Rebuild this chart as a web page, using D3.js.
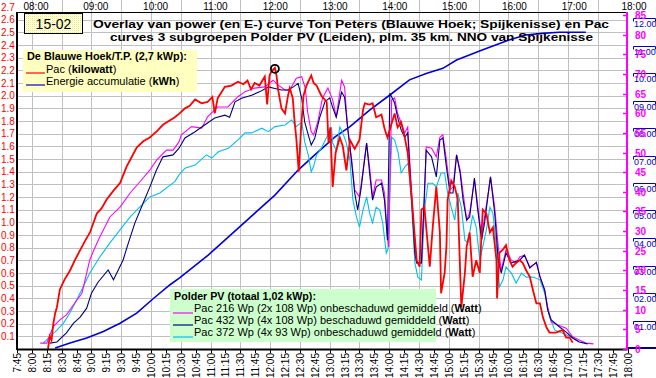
<!DOCTYPE html>
<html><head><meta charset="utf-8">
<script src="https://cdn.jsdelivr.net/npm/d3@7"></script>
<style>
body{margin:0;background:#fff}
svg{display:block}
text{font-family:Arial,"Liberation Sans",sans-serif}
</style>
</head><body>
<svg id="c" width="656" height="378"></svg>
<script>
// ---------- DATA (time in decimal hours) ----------
const redTicks = d3.range(1, 28).map(i => +(i / 10).toFixed(1));      // 0.1 .. 2.7 kW
const magentaTicks = d3.range(0, 90, 5);                               // 0 .. 85 W
const energyTicks = d3.range(1, 13);                                   // 01.00 .. 12.00 kWh
const topHours = d3.range(8, 19);                                      // 08:00 .. 18:00
const bottomQuarters = d3.range(7.75, 18.01, 0.25);                    // 7:45 .. 18:00

// Ton Peters Pac (kW)
const pacRed = [[8.27,0.0],[8.30,0.10],[8.33,0.07],[8.36,0.20],[8.39,0.28],[8.42,0.33],[8.47,0.47],[8.55,0.55],[8.64,0.62],[8.72,0.70],[8.81,0.78],[8.90,0.86],[8.975,0.92],[9.09,1.07],[9.17,1.11],[9.255,1.18],[9.37,1.25],[9.48,1.31],[9.59,1.44],[9.68,1.52],[9.76,1.59],[9.87,1.64],[9.98,1.67],[10.10,1.72],[10.20,1.77],[10.30,1.80],[10.40,1.83],[10.48,1.86],[10.57,1.90],[10.65,1.92],[10.74,1.97],[10.85,1.94],[10.95,1.95],[11.03,1.99],[11.07,1.86],[11.12,1.98],[11.24,2.07],[11.35,2.08],[11.46,2.11],[11.55,2.09],[11.62,2.12],[11.68,2.05],[11.74,2.10],[11.82,2.08],[11.91,2.15],[11.95,1.93],[11.99,2.16],[12.02,2.19],[12.08,2.22],[12.11,2.15],[12.13,2.06],[12.19,1.90],[12.25,1.86],[12.30,2.00],[12.33,2.06],[12.38,1.98],[12.41,1.80],[12.44,1.66],[12.48,1.40],[12.52,1.75],[12.56,2.00],[12.61,2.08],[12.69,2.16],[12.73,2.10],[12.78,2.08],[12.86,2.00],[12.95,1.95],[12.98,1.63],[13.01,1.75],[13.05,1.28],[13.10,1.55],[13.17,1.67],[13.22,1.60],[13.28,1.41],[13.34,1.65],[13.42,1.58],[13.50,1.65],[13.56,1.89],[13.59,1.94],[13.67,1.93],[13.72,1.94],[13.78,1.83],[13.87,1.85],[13.92,1.74],[13.97,1.67],[14.04,1.78],[14.09,1.86],[14.14,1.75],[14.20,1.79],[14.26,1.67],[14.31,1.55],[14.37,1.23],[14.43,0.88],[14.46,0.70],[14.51,0.65],[14.54,1.10],[14.59,1.12],[14.64,0.86],[14.68,0.65],[14.73,0.96],[14.79,1.28],[14.85,0.92],[14.87,0.44],[14.93,0.60],[14.96,0.81],[14.98,1.18],[15.04,1.33],[15.10,1.28],[15.15,1.18],[15.21,0.33],[15.27,0.60],[15.30,0.81],[15.35,0.92],[15.40,0.57],[15.46,0.70],[15.52,0.60],[15.55,0.92],[15.57,1.10],[15.63,1.07],[15.69,0.92],[15.74,0.96],[15.80,0.70],[15.81,0.40],[15.85,0.76],[15.90,0.78],[15.96,0.82],[16.02,0.70],[16.07,0.65],[16.13,0.68],[16.19,0.70],[16.24,0.68],[16.30,0.62],[16.36,0.57],[16.41,0.47],[16.47,0.36],[16.53,0.36],[16.58,0.25],[16.64,0.17],[16.69,0.13],[16.80,0.13],[16.91,0.15],[16.97,0.09],[17.03,0.09],[17.08,0.05]];

// Ton Peters energy accumulation (kWh)
const energyBlue = [[8.39,0.0],[8.64,0.18],[8.92,0.36],[9.20,0.60],[9.48,0.90],[9.76,1.27],[10.04,1.80],[10.32,2.30],[10.48,2.55],[10.96,3.38],[11.52,4.47],[12.08,5.56],[12.47,6.47],[12.81,7.14],[13.09,7.68],[13.34,8.05],[13.67,8.65],[14.01,9.20],[14.34,9.75],[14.62,9.98],[14.90,10.17],[15.13,10.47],[15.56,10.84],[16.01,11.20],[16.29,11.38],[16.57,11.44],[16.85,11.48],[17.30,11.48]];

// Polder PV Pac 216 Wp (W)
const pac216 = [[8.14,1.5],[8.25,1.5],[8.30,3.5],[8.36,5.7],[8.47,7.4],[8.58,8.7],[8.72,11.7],[8.84,14.2],[8.92,19.3],[8.97,22.6],[9.05,25.5],[9.14,28.5],[9.31,33.6],[9.48,36.1],[9.65,39.7],[9.81,42.5],[9.98,45.5],[10.09,48.0],[10.26,50.6],[10.37,50.6],[10.47,52.7],[10.51,54.5],[10.68,56.6],[10.85,56.2],[10.95,59.1],[11.12,61.6],[11.29,61.6],[11.46,64.2],[11.58,65.5],[11.74,66.4],[11.91,66.7],[12.05,68.4],[12.13,67.2],[12.25,65.9],[12.33,65.9],[12.44,68.9],[12.53,69.3],[12.59,66.4],[12.63,60.3],[12.69,55.3],[12.73,54.5],[12.80,57.8],[12.88,63.9],[12.97,66.4],[13.05,63.4],[13.11,59.0],[13.20,68.4],[13.25,66.7],[13.30,56.5],[13.37,48.0],[13.42,40.5],[13.50,38.7],[13.56,45.5],[13.62,52.4],[13.67,46.3],[13.72,38.7],[13.78,43.0],[13.87,43.0],[13.92,39.7],[13.97,28.5],[13.99,26.0],[14.04,63.4],[14.09,63.9],[14.14,60.0],[14.20,57.5],[14.26,55.0],[14.31,56.5],[14.37,41.2],[14.43,26.0],[14.46,21.9],[14.54,21.9],[14.59,37.9],[14.62,51.4],[14.71,51.1],[14.79,48.9],[14.85,53.9],[14.90,54.5],[14.96,48.1],[15.02,40.5],[15.07,41.2],[15.13,49.4],[15.19,45.5],[15.24,39.7],[15.30,32.8],[15.35,34.6],[15.43,43.0],[15.48,37.2],[15.55,28.5],[15.60,33.6],[15.67,40.5],[15.70,43.8],[15.77,36.1],[15.83,26.0],[15.88,20.1],[15.96,25.2],[16.05,22.6],[16.13,21.9],[16.19,23.4],[16.27,23.9],[16.36,20.9],[16.47,21.9],[16.53,18.3],[16.61,15.0],[16.66,10.7],[16.72,6.9],[16.83,6.1],[16.97,5.3],[17.08,3.1],[17.19,2.3],[17.30,1.5],[17.43,1.3]];

// Polder PV Pac 432 Wp (W)
const pac432 = [[8.30,1.5],[8.42,1.8],[8.58,4.1],[8.70,6.6],[8.81,8.1],[8.92,10.4],[9.00,14.2],[9.11,17.0],[9.28,20.1],[9.37,17.6],[9.45,20.1],[9.53,22.6],[9.62,27.0],[9.73,32.1],[9.87,37.2],[9.98,41.2],[10.09,45.5],[10.20,48.9],[10.37,49.4],[10.47,51.1],[10.57,53.7],[10.74,55.3],[10.90,57.0],[11.07,58.8],[11.24,59.5],[11.32,59.0],[11.41,62.9],[11.52,63.8],[11.69,64.6],[11.83,65.5],[11.97,66.7],[12.08,66.3],[12.19,65.9],[12.30,65.9],[12.39,66.7],[12.47,67.6],[12.53,63.8],[12.58,57.8],[12.64,54.5],[12.69,51.9],[12.75,53.7],[12.83,58.8],[12.92,62.9],[13.00,63.9],[13.05,61.5],[13.11,59.0],[13.20,65.4],[13.25,64.1],[13.30,56.5],[13.37,47.3],[13.42,39.7],[13.47,35.4],[13.53,41.2],[13.62,52.4],[13.67,44.8],[13.72,37.9],[13.78,41.2],[13.87,42.2],[13.92,37.9],[13.97,27.7],[14.01,65.1],[14.09,62.6],[14.14,59.0],[14.20,55.7],[14.26,53.9],[14.31,55.0],[14.37,39.7],[14.43,24.4],[14.46,21.9],[14.54,21.9],[14.59,39.7],[14.62,50.6],[14.71,48.9],[14.79,43.8],[14.85,53.2],[14.90,53.7],[14.96,46.3],[15.02,39.7],[15.07,39.7],[15.13,49.4],[15.19,44.8],[15.24,37.9],[15.30,32.8],[15.35,33.6],[15.43,43.5],[15.48,36.1],[15.55,27.7],[15.60,32.1],[15.67,40.5],[15.70,43.8],[15.77,34.6],[15.83,22.6],[15.88,19.3],[15.96,24.4],[16.05,21.9],[16.13,22.3],[16.19,22.6],[16.27,23.9],[16.36,20.6],[16.47,22.1],[16.53,18.5],[16.61,15.0],[16.66,9.9],[16.72,7.4],[16.86,5.6],[16.97,4.3],[17.08,2.8],[17.19,1.8],[17.33,1.3]];

// Polder PV Pac 372 Wp (W)
const pac372 = [[8.19,1.5],[8.30,3.1],[8.42,4.8],[8.53,6.6],[8.64,9.2],[8.75,12.5],[8.86,15.8],[8.97,19.3],[9.14,23.4],[9.31,27.0],[9.48,30.3],[9.65,33.6],[9.81,36.1],[9.98,38.7],[10.15,39.7],[10.32,41.7],[10.40,42.6],[10.47,44.3],[10.57,46.0],[10.74,46.8],[10.93,49.4],[11.02,48.6],[11.13,50.2],[11.30,51.1],[11.46,53.2],[11.58,55.0],[11.69,55.0],[11.86,56.2],[11.97,55.3],[12.08,56.6],[12.25,57.0],[12.36,58.3],[12.44,56.6],[12.53,57.8],[12.58,52.7],[12.64,49.4],[12.69,45.1],[12.73,46.5],[12.78,49.4],[12.86,51.1],[12.97,54.5],[13.03,56.2],[13.05,52.4],[13.11,50.6],[13.17,56.5],[13.22,55.0],[13.28,52.4],[13.34,48.1],[13.39,37.9],[13.45,33.6],[13.50,31.0],[13.56,35.4],[13.62,38.7],[13.67,34.6],[13.72,32.1],[13.78,36.1],[13.84,35.4],[13.89,32.1],[13.95,24.4],[13.98,25.5],[14.04,53.9],[14.09,53.2],[14.15,49.9],[14.20,44.8],[14.26,46.3],[14.32,47.3],[14.37,37.9],[14.43,21.9],[14.48,18.3],[14.54,17.6],[14.59,35.4],[14.65,42.2],[14.73,42.2],[14.79,41.2],[14.87,44.8],[14.93,44.8],[14.98,39.7],[15.04,36.1],[15.10,32.8],[15.15,39.7],[15.21,36.1],[15.27,27.7],[15.32,27.0],[15.40,34.0],[15.46,31.0],[15.52,22.6],[15.57,26.0],[15.63,30.3],[15.69,36.1],[15.74,34.6],[15.80,26.0],[15.85,15.8],[15.91,17.6],[15.96,20.9],[16.05,19.3],[16.13,16.8],[16.22,19.3],[16.30,18.3],[16.41,18.3],[16.53,17.6],[16.61,14.2],[16.69,8.1],[16.78,4.8],[16.86,4.3],[16.97,3.6],[17.08,2.8],[17.19,1.8]];

const peakMark = [12.08, 2.22];

// ---------- CHART ----------
const svg = d3.select("#c");
const X0 = 17, X1 = 627.5, YB = 349, YT = 12;
const x = d3.scaleLinear().domain([7.75, 18]).range([X0, X1]);
const xTop = d3.scaleLinear().domain([8, 18]).range([36, 634]);
const yR = d3.scaleLinear().domain([0, 2.7]).range([YB, 7]);
const yW = d3.scaleLinear().domain([0, 85]).range([YB, 15]);
const yE = d3.scaleLinear().domain([0, 12]).range([348, 18]);
const fmtHM = h => { const hh = Math.floor(h + 1e-6), mm = Math.round((h - hh) * 60); return hh + ":" + String(mm).padStart(2, "0"); };

const defs = svg.append("defs");
const pat = defs.append("pattern").attr("id","dots").attr("width",2).attr("height",2).attr("patternUnits","userSpaceOnUse");
pat.append("rect").attr("width",2).attr("height",2).attr("fill","#ffffff");
pat.append("rect").attr("width",1).attr("height",1).attr("fill","#f0f060");
pat.append("rect").attr("x",1).attr("y",1).attr("width",1).attr("height",1).attr("fill","#ffffc0");

// grid
const grid = svg.append("g").attr("stroke", "#c0c0c0").attr("stroke-width", 1);
redTicks.filter(v => v <= 2.6).forEach(v => {
  const yy = Math.round(yR(v)) + 0.5;
  grid.append("line").attr("x1", X0).attr("x2", X1).attr("y1", yy).attr("y2", yy);
});
d3.range(8, 18, 0.5).forEach(h => {
  const xx = Math.round(x(h)) + 0.5;
  grid.append("line").attr("x1", xx).attr("x2", xx).attr("y1", 0).attr("y2", YB);
});
// top border
svg.append("line").attr("x1", X0).attr("x2", X1).attr("y1", YT + 0.5).attr("y2", YT + 0.5).attr("stroke", "#000");

// top hour labels
svg.append("g").selectAll("text").data(topHours).join("text")
  .attr("x", d => xTop(d)).attr("y", 9.5).attr("text-anchor", "middle")
  .attr("font-size", 10).attr("fill", "#000")
  .text(d => String(d).padStart(2, "0") + ":00");

// left red axis labels
svg.append("g").selectAll("text").data(redTicks).join("text")
  .attr("x", 1).attr("y", d => yR(d) + 3.5).attr("font-size", 10).attr("fill", "#ff0000")
  .text(d => d.toFixed(1));

// right energy (blue boxed) labels
const eg = svg.append("g");
energyTicks.forEach(k => {
  const yy = Math.round(yE(k)) + 0.5;
  eg.append("path").attr("d", `M633.5,${yy + 3}V${yy}H655.5V${yy + 3}`).attr("fill", "none").attr("stroke", "#0000cc");
  eg.append("text").attr("x", 634).attr("y", yy + 8.5).attr("font-size", 9).attr("fill", "#0000cc")
    .text(String(k).padStart(2, "0") + ".00");
});
svg.append("line").attr("x1", 627).attr("x2", 656).attr("y1", yE(0)).attr("y2", yE(0)).attr("stroke", "#000080").attr("stroke-width", 2);

// series
const line = (yScale) => d3.line().x(d => x(d[0])).y(d => yScale(d[1]));
svg.append("path").datum(energyBlue).attr("d", line(yE)).attr("fill", "none").attr("stroke", "#0000e0").attr("stroke-width", 1.6);
svg.append("path").datum(pac372).attr("d", line(yW)).attr("fill", "none").attr("stroke", "#00c0f0").attr("stroke-width", 1.1);
svg.append("path").datum(pac216).attr("d", line(yW)).attr("fill", "none").attr("stroke", "#ff00ff").attr("stroke-width", 1.1);
svg.append("path").datum(pac432).attr("d", line(yW)).attr("fill", "none").attr("stroke", "#000080").attr("stroke-width", 1.1);
svg.append("path").datum(pacRed).attr("d", line(yR)).attr("fill", "none").attr("stroke", "#ff0000").attr("stroke-width", 1.8);
svg.append("circle").attr("cx", x(peakMark[0])).attr("cy", yR(peakMark[1]) + 1).attr("r", 4)
  .attr("fill", "none").attr("stroke", "#000").attr("stroke-width", 1.8);

// axes lines
svg.append("line").attr("x1", X0).attr("x2", X0).attr("y1", YT).attr("y2", YB + 1).attr("stroke", "#000").attr("stroke-width", 2);
svg.append("line").attr("x1", X0).attr("x2", X1).attr("y1", YB + 0.5).attr("y2", YB + 0.5).attr("stroke", "#000").attr("stroke-width", 2);
// right magenta axis
svg.append("line").attr("x1", 627).attr("x2", 627).attr("y1", YT).attr("y2", YB + 1).attr("stroke", "#ff00ff").attr("stroke-width", 2);
const mg = svg.append("g");
magentaTicks.forEach(v => {
  const yy = Math.round(yW(v)) + 0.5;
  mg.append("line").attr("x1", 623).attr("x2", 627).attr("y1", yy).attr("y2", yy).attr("stroke", "#ff00ff").attr("stroke-width", 1.5);
  mg.append("text").attr("x", 635).attr("y", yy + 3.5).attr("font-size", 10).attr("font-weight", "bold").attr("fill", "#ff00ff").text(v);
});

// bottom ticks and rotated labels
const bg = svg.append("g");
bottomQuarters.forEach(h => {
  const xx = Math.round(x(h)) + 0.5;
  bg.append("line").attr("x1", xx).attr("x2", xx).attr("y1", YB).attr("y2", YB + 4).attr("stroke", "#000");
  bg.append("text").attr("transform", `translate(${xx + 3.5},${353}) rotate(-90)`)
    .attr("text-anchor", "end").attr("font-size", 10).attr("fill", "#000").text(fmtHM(h));
});

// title
const title1 = "Overlay van power (en E-) curve Ton Peters (Blauwe Hoek; Spijkenisse) en Pac";
const title2 = "curves 3 subgroepen Polder PV (Leiden), plm. 35 km. NNO van Spijkenisse";
svg.append("text").attr("x", 93).attr("y", 28).attr("font-family", "DejaVu Sans").attr("font-weight", "bold").attr("font-size", 11.5)
  .attr("textLength", 516).attr("lengthAdjust", "spacingAndGlyphs").text(title1);
svg.append("text").attr("x", 110).attr("y", 41).attr("font-family", "DejaVu Sans").attr("font-weight", "bold").attr("font-size", 11.5)
  .attr("textLength", 483).attr("lengthAdjust", "spacingAndGlyphs").text(title2);

// date box
svg.append("rect").attr("x", 24.5).attr("y", 13.5).attr("width", 58).attr("height", 20).attr("fill", "url(#dots)").attr("stroke", "#000");
svg.append("text").attr("x", 53.5).attr("y", 29).attr("text-anchor", "middle").attr("font-size", 14).text("15-02");

// legend 1
const l1 = svg.append("g");
l1.append("rect").attr("x", 23).attr("y", 50).attr("width", 174).attr("height", 42).attr("fill", "#ffffc0");
l1.append("text").attr("x", 27).attr("y", 60).attr("font-size", 11).attr("font-weight", "bold")
  .attr("textLength", 160).attr("lengthAdjust", "spacingAndGlyphs").text("De Blauwe Hoek/T.P. (2,7 kWp):");
l1.append("line").attr("x1", 26).attr("x2", 45).attr("y1", 73).attr("y2", 73).attr("stroke", "#ff0000").attr("stroke-width", 1.2);
const t1 = l1.append("text").attr("x", 46).attr("y", 73).attr("font-size", 11);
t1.append("tspan").text("Pac ("); t1.append("tspan").attr("font-weight", "bold").text("kilowatt"); t1.append("tspan").text(")");
l1.append("line").attr("x1", 26).attr("x2", 45).attr("y1", 85).attr("y2", 85).attr("stroke", "#0000cc").attr("stroke-width", 1.2);
const t2 = l1.append("text").attr("x", 46).attr("y", 85).attr("font-size", 11);
t2.append("tspan").text("Energie accumulatie ("); t2.append("tspan").attr("font-weight", "bold").text("kWh"); t2.append("tspan").text(")");

// legend 2
const l2 = svg.append("g");
l2.append("rect").attr("x", 170).attr("y", 289).attr("width", 266).attr("height", 53).attr("fill", "#ccffcc");
l2.append("text").attr("x", 174).attr("y", 300).attr("font-size", 11).attr("font-weight", "bold")
  .attr("textLength", 142).attr("lengthAdjust", "spacingAndGlyphs").text("Polder PV (totaal 1,02 kWp):");
const l2rows = [
  ["#ff00ff", "Pac 216 Wp (2x 108 Wp) onbeschaduwd gemiddeld (", 312],
  ["#000080", "Pac 432 Wp (4x 108 Wp) beschaduwd gemiddeld (", 324],
  ["#00c0f0", "Pac 372 Wp (4x 93 Wp) onbeschaduwd gemiddeld (", 336]
];
l2rows.forEach(r => {
  l2.append("line").attr("x1", 173).attr("x2", 193).attr("y1", r[2] + 1).attr("y2", r[2] + 1).attr("stroke", r[0]).attr("stroke-width", 1.2);
  const t = l2.append("text").attr("x", 194).attr("y", r[2]).attr("font-size", 11);
  t.append("tspan").text(r[1]); t.append("tspan").attr("font-weight", "bold").text("Watt"); t.append("tspan").text(")");
});
</script>
</body></html>
